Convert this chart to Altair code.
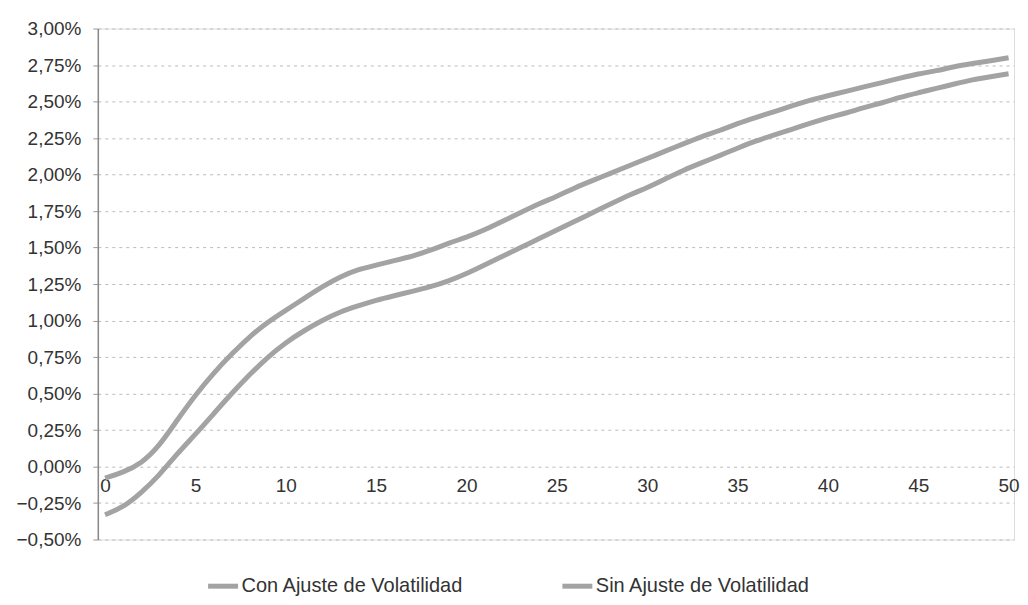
import altair as alt
import pandas as pd

years = list(range(0, 51))
con_ajuste = [-0.08, -0.04, 0.02, 0.14, 0.32, 0.49, 0.64, 0.77, 0.89, 0.99,
              1.07, 1.15, 1.23, 1.30, 1.35, 1.38, 1.41, 1.44, 1.48, 1.53,
              1.57, 1.62, 1.68, 1.74, 1.80, 1.85, 1.91, 1.96, 2.01, 2.06,
              2.11, 2.16, 2.21, 2.26, 2.30, 2.35, 2.39, 2.43, 2.47, 2.51,
              2.54, 2.57, 2.60, 2.63, 2.66, 2.69, 2.71, 2.74, 2.76, 2.78, 2.80]
sin_ajuste = [-0.33, -0.28, -0.18, -0.06, 0.09, 0.22, 0.36, 0.50, 0.63, 0.75,
              0.85, 0.93, 1.00, 1.06, 1.10, 1.14, 1.17, 1.20, 1.23, 1.27,
              1.32, 1.38, 1.44, 1.50, 1.56, 1.62, 1.68, 1.74, 1.80, 1.86,
              1.91, 1.97, 2.03, 2.08, 2.13, 2.18, 2.23, 2.27, 2.31, 2.35,
              2.39, 2.42, 2.46, 2.49, 2.53, 2.56, 2.59, 2.62, 2.65, 2.67, 2.69]
series_names = ["Con Ajuste de Volatilidad", "Sin Ajuste de Volatilidad"]
y_ticks = [-0.5, -0.25, 0, 0.25, 0.5, 0.75, 1.0, 1.25, 1.5, 1.75, 2.0, 2.25, 2.5, 2.75, 3.0]
x_ticks = [0, 5, 10, 15, 20, 25, 30, 35, 40, 45, 50]

rows = []
for i, yr in enumerate(years):
    rows.append({"x": yr, "v": con_ajuste[i], "serie": series_names[0]})
    rows.append({"x": yr, "v": sin_ajuste[i], "serie": series_names[1]})
df = pd.DataFrame(rows)

FONT = "Liberation Sans"

chart = alt.Chart(df).mark_line(strokeWidth=5, interpolate="basis").encode(
    x=alt.X("x:Q",
            scale=alt.Scale(domain=[-0.4, 50.3], nice=False, zero=False),
            axis=alt.Axis(values=x_ticks, title=None, domain=False, ticks=False,
                          grid=False, offset=-73, labelPadding=10,
                          labelFontSize=19, labelFont=FONT, labelColor="#333333",
                          labelFlush=False)),
    y=alt.Y("v:Q",
            scale=alt.Scale(domain=[-0.5, 3.0], nice=False, zero=False),
            axis=alt.Axis(values=y_ticks, title=None,
                          labelExpr="replace(format(datum.value, '.2f'), '.', ',') + '%'",
                          labelFontSize=19, labelFont=FONT, labelColor="#333333",
                          labelPadding=12, tickSize=5, tickColor="#999999",
                          domainColor="#888888", domainWidth=1.5,
                          grid=True, gridColor="#bbbbbb", gridDash=[3, 4], gridWidth=1)),
    color=alt.Color("serie:N",
                    scale=alt.Scale(domain=series_names, range=["#a3a3a3", "#a3a3a3"]),
                    legend=alt.Legend(title=None, orient="none", direction="horizontal",
                                      legendX=108, legendY=541,
                                      symbolType="stroke", symbolStrokeWidth=5,
                                      symbolSize=900, columnPadding=88,
                                      labelFontSize=20, labelFont=FONT, labelColor="#333333",
                                      labelLimit=0, labelOffset=1)),
).properties(
    width=918, height=512,
    autosize=alt.AutoSizeParams(type="none"),
    padding={"left": 90, "top": 20, "right": 6, "bottom": 62},
).configure_view(stroke=None).configure(background="white")

chart.save("out.html", embed_options={"renderer": "svg", "actions": False})
